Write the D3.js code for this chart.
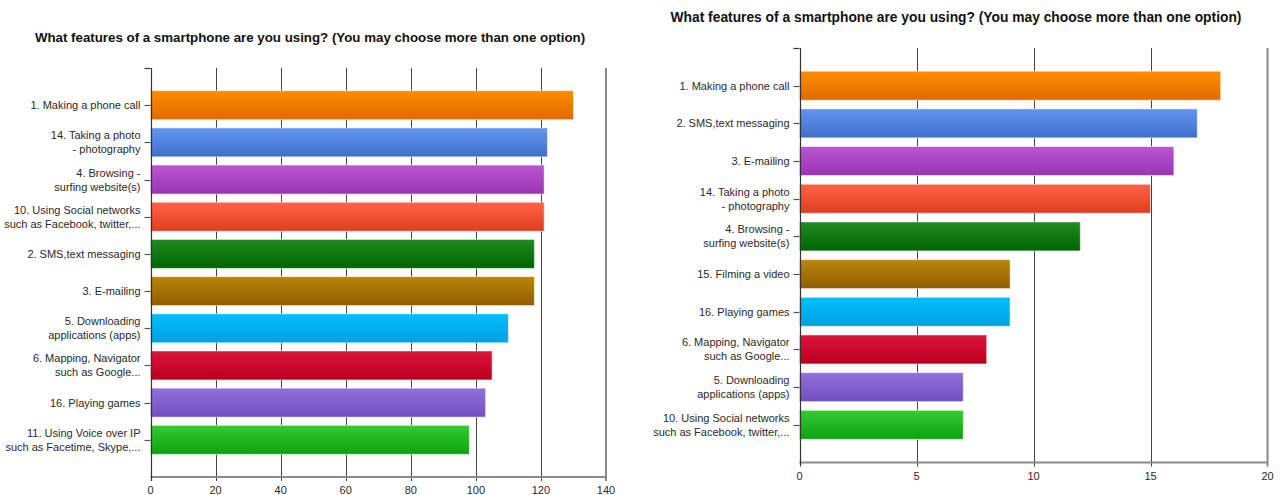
<!DOCTYPE html>
<html>
<head>
<meta charset="utf-8">
<script src="https://cdn.jsdelivr.net/npm/d3@7/dist/d3.min.js"></script>
<style>
  html, body { margin: 0; padding: 0; background: #fff; }
  svg { display: block; font-family: "Liberation Sans", Arial, sans-serif; }
</style>
</head>
<body>
<svg id="chart" width="1280" height="495"></svg>
<script>
const chartTitle = "What features of a smartphone are you using? (You may choose more than one option)";

const leftCategories = [
  "1. Making a phone call",
  "14. Taking a photo\n- photography",
  "4. Browsing -\nsurfing website(s)",
  "10. Using Social networks\nsuch as Facebook, twitter,...",
  "2. SMS,text messaging",
  "3. E-mailing",
  "5. Downloading\napplications (apps)",
  "6. Mapping, Navigator\nsuch as Google...",
  "16. Playing games",
  "11. Using Voice over IP\nsuch as Facetime, Skype,..."
];
const leftValues = [130, 122, 121, 121, 118, 118, 110, 105, 103, 98];
const leftTicks = [0, 20, 40, 60, 80, 100, 120, 140];

const rightCategories = [
  "1. Making a phone call",
  "2. SMS,text messaging",
  "3. E-mailing",
  "14. Taking a photo\n- photography",
  "4. Browsing -\nsurfing website(s)",
  "15. Filming a video",
  "16. Playing games",
  "6. Mapping, Navigator\nsuch as Google...",
  "5. Downloading\napplications (apps)",
  "10. Using Social networks\nsuch as Facebook, twitter,..."
];
const rightValues = [18, 17, 16, 15, 12, 9, 9, 8, 7, 7];
const rightTicks = [0, 5, 10, 15, 20];

// bar colours by rank: [top, bottom] of gradient
const barColors = [
  ["#ff8c00", "#e06a00"],
  ["#6495ed", "#3f6fcc"],
  ["#ba55d3", "#9a34b4"],
  ["#ff6347", "#de3e1f"],
  ["#228b22", "#006400"],
  ["#b8860b", "#915d00"],
  ["#00bfff", "#00a0df"],
  ["#dc143c", "#b9001f"],
  ["#9370db", "#7050bf"],
  ["#32cd32", "#10a010"]
];

const svg = d3.select("#chart");
const defs = svg.append("defs");
barColors.forEach((c, i) => {
  const g = defs.append("linearGradient").attr("id", "grad" + i)
    .attr("x1", 0).attr("y1", 0).attr("x2", 0).attr("y2", 1);
  g.append("stop").attr("offset", "0%").attr("stop-color", c[0]);
  g.append("stop").attr("offset", "100%").attr("stop-color", c[1]);
});

function drawPanel(cfg) {
  const { categories, values, ticks, x0, x1, y0, y1, titleX, titleY, titleSize, tickLabelY } = cfg;
  const g = svg.append("g");

  const x = d3.scaleLinear().domain([ticks[0], ticks[ticks.length - 1]]).range([x0, x1]);
  const y = d3.scalePoint().domain(categories).range([y0, y1]).padding(1);
  const barH = 29;

  // title
  g.append("text")
    .attr("x", titleX).attr("y", titleY)
    .attr("text-anchor", "middle")
    .attr("font-size", titleSize).attr("font-weight", "bold").attr("fill", "#111")
    .text(chartTitle);

  // gridlines
  g.append("g").selectAll("line").data(ticks.slice(1, -1)).join("line")
    .attr("x1", d => Math.round(x(d)) + 0.5).attr("x2", d => Math.round(x(d)) + 0.5)
    .attr("y1", y0).attr("y2", y1 + 4)
    .attr("stroke", "#444").attr("stroke-width", 1);

  // right border line (last tick)
  g.append("line")
    .attr("x1", x(ticks[ticks.length - 1])).attr("x2", x(ticks[ticks.length - 1]))
    .attr("y1", y0).attr("y2", y1 + 4)
    .attr("stroke", "#8a8a8a").attr("stroke-width", 2);

  // x axis line
  g.append("line")
    .attr("x1", x0).attr("x2", x1)
    .attr("y1", y1).attr("y2", y1)
    .attr("stroke", "#8a8a8a").attr("stroke-width", 2);

  // bars
  g.append("g").selectAll("rect").data(values).join("rect")
    .attr("x", x(0))
    .attr("y", (d, i) => y(categories[i]) - barH / 2)
    .attr("width", d => x(d) - x(0))
    .attr("height", barH)
    .attr("fill", (d, i) => `url(#grad${i})`)
    .attr("stroke", "rgba(255,255,255,0.55)")
    .attr("stroke-width", 1);

  // y axis line
  g.append("line")
    .attr("x1", Math.round(x0) + 0.5).attr("x2", Math.round(x0) + 0.5)
    .attr("y1", y0).attr("y2", y1 + 4)
    .attr("stroke", "#333").attr("stroke-width", 1.2);
  // top bracket tick
  g.append("line")
    .attr("x1", x0 - 6).attr("x2", x0)
    .attr("y1", y0 + 0.5).attr("y2", y0 + 0.5)
    .attr("stroke", "#333").attr("stroke-width", 1.2);

  // y ticks
  g.append("g").selectAll("line").data(categories).join("line")
    .attr("x1", x0 - 6).attr("x2", x0)
    .attr("y1", d => Math.round(y(d)) + 0.5).attr("y2", d => Math.round(y(d)) + 0.5)
    .attr("stroke", "#555").attr("stroke-width", 1.2);

  // y labels
  const lbl = g.append("g").selectAll("text").data(categories).join("text")
    .attr("text-anchor", "end")
    .attr("font-size", "11px").attr("fill", "#2a2a2a")
    .attr("y", d => y(d));
  lbl.each(function (d) {
    const lines = d.split("\n");
    const t = d3.select(this);
    const lh = 14;
    lines.forEach((ln, k) => {
      t.append("tspan")
        .attr("x", x0 - 10)
        .attr("y", y(d) + (k - (lines.length - 1) / 2) * lh + 4)
        .text(ln);
    });
  });

  // x tick labels
  g.append("g").selectAll("text").data(ticks).join("text")
    .attr("x", d => x(d)).attr("y", tickLabelY)
    .attr("text-anchor", "middle")
    .attr("font-size", "11px").attr("fill", "#2a2a2a")
    .text(d => d);
}

drawPanel({
  categories: leftCategories, values: leftValues, ticks: leftTicks,
  x0: 150.5, x1: 606, y0: 68, y1: 477,
  titleX: 310, titleY: 42, titleSize: "13.3px", tickLabelY: 494
});
drawPanel({
  categories: rightCategories, values: rightValues, ticks: rightTicks,
  x0: 799.5, x1: 1267.5, y0: 48, y1: 462.5,
  titleX: 956, titleY: 22, titleSize: "13.8px", tickLabelY: 480
});
</script>
</body>
</html>
